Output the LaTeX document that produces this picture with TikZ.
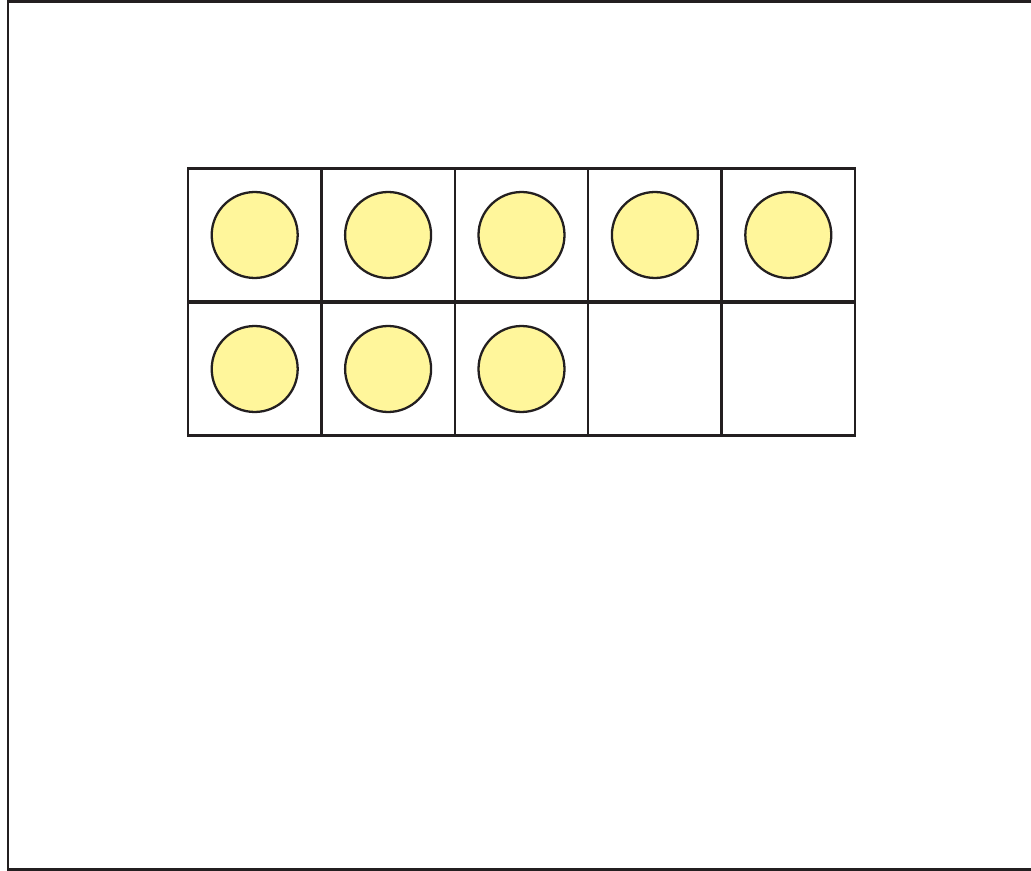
\documentclass[tikz,border=0pt]{standalone}
\usetikzlibrary{positioning}
\definecolor{inkdk}{HTML}{231F20}
\definecolor{ctryel}{HTML}{FFF69B}

\begin{document}
\begin{tikzpicture}[
  x=0.02cm, y=-0.02cm,
  cell/.style={
    draw=inkdk, line width=1.4pt, minimum width=2.668cm, minimum height=2.668cm,
    inner sep=0pt, outer sep=0pt
  },
  counter/.style={
    circle, draw=inkdk, line width=1.3pt, fill=ctryel,
    minimum size=1.72cm, inner sep=0pt
  },
  frameline/.style={draw=inkdk, line width=1.4pt},
]

% Canvas
\useasboundingbox (0,0) rectangle (1031,871);

% Frame (open on the right)
\coordinate (ftr) at (1031,1.3);
\coordinate (ftl) at (8,1.3);
\coordinate (fbl) at (8,869.5);
\coordinate (fbr) at (1031,869.5);
\draw[frameline] (ftr) -- (ftl) -- (fbl) -- (fbr);

% Ten frame
\def\cellW{133.4}
\def\topY{235}
\def\botY{369}

\node[cell] (c1) at (254.7, \topY) {};
\node[cell] (c2) at (254.7 + \cellW*1, \topY) {};
\node[cell] (c3) at (254.7 + \cellW*2, \topY) {};
\node[cell] (c4) at (254.7 + \cellW*3, \topY) {};
\node[cell] (c5) at (254.7 + \cellW*4, \topY) {};
\node[cell] (c6) at (254.7, \botY) {};
\node[cell] (c7) at (254.7 + \cellW*1, \botY) {};
\node[cell] (c8) at (254.7 + \cellW*2, \botY) {};
\node[cell] (c9) at (254.7 + \cellW*3, \botY) {};
\node[cell] (c10) at (254.7 + \cellW*4, \botY) {};

% Counters
\node[counter] (d1) at (c1.center) {};
\node[counter] (d2) at (c2.center) {};
\node[counter] (d3) at (c3.center) {};
\node[counter] (d4) at (c4.center) {};
\node[counter] (d5) at (c5.center) {};
\node[counter] (d6) at (c6.center) {};
\node[counter] (d7) at (c7.center) {};
\node[counter] (d8) at (c8.center) {};

\end{tikzpicture}
\end{document}
